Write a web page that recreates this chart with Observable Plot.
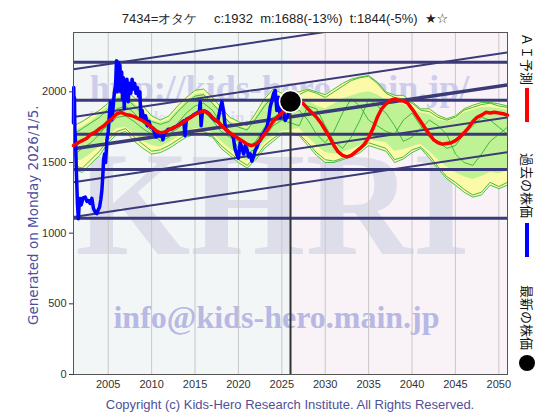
<!DOCTYPE html>
<html><head><meta charset="utf-8">
<script src="https://cdn.jsdelivr.net/npm/d3@7"></script>
<script src="https://cdn.jsdelivr.net/npm/@observablehq/plot@0.6"></script>
<style>
body{margin:0;background:#fff;}
#wrap{position:relative;width:560px;height:420px;overflow:hidden;font-family:"Liberation Sans","DejaVu Sans",sans-serif;}
#wrap svg{position:absolute;left:0;top:0;}
.abs{position:absolute;white-space:nowrap;}
#title{top:10px;left:0;width:570px;text-align:center;font-size:13px;color:#222;}
#ylab{left:25px;top:95px;height:240px;writing-mode:vertical-rl;transform:rotate(180deg);font-size:13.5px;color:#4e4ea0;font-family:"DejaVu Sans",sans-serif;text-align:center;}
#copy{top:397px;left:0;width:580px;text-align:center;font-size:13px;color:#505098;}
.lg{left:519px;writing-mode:vertical-rl;text-orientation:sideways;font-size:13px;color:#111;font-family:"Noto Sans CJK JP",sans-serif;line-height:16px;}
.bar{left:525px;width:4px;height:34px;}
</style></head><body><div id="wrap"></div><script>
// ---- data ----
const title = "7434=オタケ\u3000 c:1932\u00a0\u00a0m:1688(-13%)\u00a0\u00a0t:1844(-5%)\u00a0\u00a0★☆";
const generated = "Generated on Monday 2026/1/5.";
const copyright = "Copyright (c) Kids-Hero Research Institute. All Rights Reserved.";
const legendLabels = ["ＡＩ予測", "過去の株価", "最新の株価"];
const xTicks = [2005, 2010, 2015, 2020, 2025, 2030, 2035, 2040, 2045, 2050];
const yTicks = [0, 500, 1000, 1500, 2000];

const bandYears = [2001,2002,2003,2004,2005,2006,2007,2008,2009,2010,2011,2012,2013,2014,2015,2016,2017,2018,2019,2020,2021,2022,2023,2024,2025,2026,2027,2028,2029,2030,2031,2032,2033,2034,2035,2036,2037,2038,2039,2040,2041,2042,2043,2044,2045,2046,2047,2048,2049,2050,2051];
const yellowHi = [1760,1790,1830,1870,1920,2000,2010,1960,1900,1830,1800,1830,1900,1960,2010,2020,1960,1890,1820,1790,1760,1850,1950,2020,1990,2000,2000,2020,2000,1980,2020,2060,2090,2105,2115,2070,2000,1975,1975,1930,1880,1880,1835,1810,1830,1880,1905,1925,1925,1915,1900];
const yellowLo = [1450,1430,1490,1550,1640,1700,1720,1650,1600,1560,1570,1600,1640,1680,1700,1700,1680,1600,1550,1500,1460,1520,1600,1650,1700,1700,1690,1620,1550,1500,1500,1520,1540,1570,1620,1600,1580,1500,1525,1570,1600,1530,1455,1385,1340,1290,1255,1270,1340,1315,1340];
const greenHi = [1720,1750,1790,1840,1900,1960,1970,1920,1860,1800,1780,1800,1870,1930,1980,1990,1930,1860,1790,1760,1740,1820,1910,1980,1960,1960,1950,1940,1900,1880,1910,1950,1970,1990,2000,1980,1940,1920,1910,1880,1850,1840,1800,1790,1800,1850,1870,1890,1890,1880,1870];
const greenLo = [1500,1520,1560,1610,1680,1740,1750,1700,1650,1620,1610,1640,1680,1710,1740,1740,1710,1650,1600,1550,1510,1560,1640,1690,1720,1730,1740,1680,1620,1570,1560,1570,1590,1620,1660,1650,1640,1580,1590,1610,1630,1580,1520,1470,1430,1400,1380,1400,1430,1420,1440];
const path1 = [1700,1740,1780,1820,1880,1950,1960,1900,1840,1790,1770,1790,1860,1920,1970,1980,1920,1850,1780,1750,1730,1810,1900,1970,1950,1960,1980,2010,1990,1960,2000,2040,2080,2100,2110,2060,1990,1960,1950,1920,1870,1860,1820,1800,1820,1870,1890,1910,1920,1900,1890];
const path2 = [1480,1460,1520,1580,1660,1720,1740,1680,1630,1580,1590,1620,1660,1700,1720,1720,1690,1620,1570,1520,1480,1540,1620,1670,1710,1710,1700,1640,1570,1520,1510,1530,1560,1590,1640,1620,1600,1520,1540,1590,1610,1550,1470,1400,1360,1310,1270,1290,1360,1330,1360];
const path3 = [1600,1650,1690,1720,1760,1820,1830,1790,1740,1700,1680,1700,1740,1790,1850,1860,1800,1720,1680,1650,1600,1650,1750,1820,1840,1850,1870,1800,1700,1640,1720,1850,1950,1900,1800,1760,1720,1700,1800,1850,1760,1680,1650,1600,1620,1700,1760,1820,1800,1750,1700];
const path4 = [1550,1600,1640,1700,1780,1880,1900,1850,1780,1720,1650,1680,1780,1850,1900,1920,1870,1780,1700,1600,1560,1600,1680,1760,1800,1780,1760,1900,1880,1760,1650,1600,1680,1800,1950,1900,1850,1760,1650,1680,1740,1800,1760,1700,1560,1500,1480,1560,1650,1700,1750];

const aiYears = [2001,2001.5,2002,2002.5,2003,2003.5,2004,2004.5,2005,2005.5,2006,2006.5,2007,2007.5,2008,2008.5,2009,2009.5,2010,2010.5,2011,2011.5,2012,2012.5,2013,2013.5,2014,2014.5,2015,2015.5,2016,2016.5,2017,2017.5,2018,2018.5,2019,2019.5,2020,2020.5,2021,2021.5,2022,2022.5,2023,2023.5,2024,2024.5,2025,2025.5,2026,2026.5,2027,2027.5,2028,2028.5,2029,2029.5,2030,2030.5,2031,2031.5,2032,2032.5,2033,2033.5,2034,2034.5,2035,2035.5,2036,2036.5,2037,2037.5,2038,2038.5,2039,2039.5,2040,2040.5,2041,2041.5,2042,2042.5,2043,2043.5,2044,2044.5,2045,2045.5,2046,2046.5,2047,2047.5,2048,2048.5,2049,2049.5,2050,2050.5,2051];
const aiForecast = [1620,1640,1655,1670,1700,1715,1740,1760,1790,1815,1845,1855,1840,1835,1825,1810,1795,1775,1750,1725,1710,1715,1730,1745,1760,1780,1800,1820,1840,1855,1865,1850,1820,1795,1765,1735,1710,1690,1670,1650,1630,1620,1630,1660,1700,1745,1790,1825,1850,1880,1905,1925,1930,1915,1880,1850,1820,1780,1730,1680,1620,1575,1550,1540,1550,1575,1600,1630,1675,1740,1820,1880,1915,1940,1950,1940,1935,1920,1880,1835,1790,1745,1700,1660,1640,1630,1635,1640,1655,1680,1710,1745,1790,1820,1835,1855,1850,1855,1850,1845,1835];

const histYears = [2001.00,2001.03,2001.07,2001.11,2001.16,2001.24,2001.34,2001.46,2001.56,2001.66,2001.77,2001.88,2001.97,2002.10,2002.35,2002.55,2002.73,2002.92,2003.12,2003.30,2003.50,2003.70,2003.85,2004.00,2004.15,2004.27,2004.39,2004.46,2004.58,2004.70,2004.85,2005.00,2005.15,2005.25,2005.40,2005.55,2005.70,2005.85,2005.95,2006.05,2006.15,2006.25,2006.35,2006.45,2006.55,2006.65,2006.75,2006.85,2006.95,2007.05,2007.15,2007.30,2007.45,2007.60,2007.75,2007.90,2008.05,2008.20,2008.35,2008.50,2008.65,2008.75,2008.90,2009.10,2009.30,2009.50,2009.70,2009.90,2010.10,2010.30,2010.50,2010.70,2010.90,2011.10,2011.30,2011.50,2011.70,2011.90,2012.20,2012.50,2012.80,2013.10,2013.40,2013.70,2013.85,2014.00,2014.30,2014.60,2014.90,2015.20,2015.50,2015.60,2015.70,2015.85,2016.10,2016.40,2016.70,2017.00,2017.30,2017.60,2017.90,2018.10,2018.30,2018.50,2018.80,2019.10,2019.40,2019.60,2019.80,2020.00,2020.20,2020.40,2020.60,2020.80,2021.00,2021.20,2021.36,2021.55,2021.74,2021.90,2022.13,2022.30,2022.50,2022.70,2022.89,2023.10,2023.28,2023.46,2023.66,2023.86,2024.04,2024.24,2024.43,2024.62,2024.81,2025.00,2025.19,2025.39,2025.58,2025.77,2025.96];
const histPrice = [1780,2030,1820,1960,1720,1640,1420,1200,1102,1210,1246,1200,1219,1250,1255,1225,1231,1210,1246,1175,1149,1139,1165,1184,1240,1302,1423,1515,1560,1500,1660,1720,1850,1930,1800,1880,1990,2050,2220,2000,2210,2060,2190,2000,2140,1950,2100,1880,2060,1950,2090,1930,2060,1990,2090,2020,2060,1990,2030,1970,2000,1820,1870,1800,1830,1760,1790,1750,1745,1720,1680,1700,1690,1705,1660,1715,1720,1735,1735,1745,1755,1765,1780,1795,1690,1805,1815,1825,1840,1850,1860,1930,1760,1860,1865,1855,1840,1815,1800,1790,1880,1930,1860,1740,1720,1705,1680,1600,1560,1530,1640,1600,1560,1620,1590,1540,1562,1510,1538,1580,1609,1640,1656,1690,1703,1730,1750,1798,1892,1939,1987,2010,1868,1962,1821,1892,1868,1798,1821,1845,1868];

const levelLines = [2210, 1940, 1700, 1450, 1105];
const trendStartYear = 2001, trendEndYear = 2051;
const trendStart = [2160, 1822, 1597, 1361, 1115];
const trendEnd = [2615, 2279, 2049, 1819, 1573];
const trendWeight = [2, 2, 3.5, 2, 2];
const currentYear = 2026, currentPrice = 1932;

// ---- tables ----
const band = bandYears.map((x, i) => ({x, yHi: yellowHi[i], yLo: yellowLo[i], gHi: greenHi[i], gLo: greenLo[i]}));
const paths = [path1, path2, path3, path4].flatMap((p, k) => bandYears.map((x, i) => ({x, y: p[i], k})));
const ai = aiYears.map((x, i) => ({x, y: aiForecast[i]}));
const hist = histYears.map((x, i) => ({x, y: histPrice[i]}));
const trends = trendStart.flatMap((s, k) => [{x: trendStartYear, y: s, k, w: trendWeight[k]}, {x: trendEndYear, y: trendEnd[k], k, w: trendWeight[k]}]);
const bgPast = [{x1: 2001, x2: currentYear}], bgFuture = [{x1: currentYear, x2: 2051}];
const navy = "#3a3a78";

const chart = Plot.plot({
  width: 560, height: 420,
  marginLeft: 73, marginRight: 53, marginTop: 32, marginBottom: 46,
  x: {domain: [2001, 2051], label: null},
  y: {domain: [0, 2420], label: null},
  style: {fontFamily: "'Liberation Sans', sans-serif", fontSize: "11px", color: "#333", background: "transparent"},
  marks: [
    Plot.rect(bgPast, {x1: "x1", x2: "x2", y1: 0, y2: 2420, fill: "#f2f6f7"}),
    Plot.rect(bgFuture, {x1: "x1", x2: "x2", y1: 0, y2: 2420, fill: "#f9f2f7"}),
    Plot.text(["http://kids-hero.main.jp/"], {text: d => d, frameAnchor: "top", dx: -11, dy: 42, fontSize: 36, fontWeight: "bold", fontFamily: "'Liberation Serif', serif", fill: "#cdcdec"}),
    Plot.text(["http://kids-hero.main.jp/7434.htm"], {text: d => d, frameAnchor: "top-left", dx: 16, dy: 78, fontSize: 17, fontWeight: "bold", fontFamily: "'Liberation Serif', serif", fill: "#dcdcf0", textAnchor: "start"}),
    Plot.text(["KHRI"], {text: d => d, frameAnchor: "middle", dx: -18, dy: 3, fontSize: 148, fontWeight: "bold", fontFamily: "'Liberation Serif', serif", fill: "#dedeea"}),
    Plot.text(["info@kids-hero.main.jp"], {text: d => d, frameAnchor: "bottom", dx: -14, dy: -47, fontSize: 32, fontWeight: "bold", fontFamily: "'Liberation Serif', serif", fill: "#b8b8e4"}),
    Plot.gridX(xTicks, {stroke: "#c8c8c8", strokeOpacity: 1, strokeWidth: 1}),
    Plot.areaY(band, {x: "x", y1: "yLo", y2: "yHi", fill: "#fbfaa8"}),
    Plot.areaY(band, {x: "x", y1: "gLo", y2: "gHi", fill: "#bff294"}),
    Plot.line(band, {x: "x", y: "yHi", stroke: "#3cb83c", strokeWidth: 0.9}),
    Plot.line(band, {x: "x", y: "yLo", stroke: "#3cb83c", strokeWidth: 0.9}),
    Plot.line(paths, {x: "x", y: "y", z: "k", stroke: "#33b033", strokeWidth: 0.9}),
    Plot.ruleY(levelLines, {stroke: navy, strokeWidth: 3}),
    Plot.line(trends, {x: "x", y: "y", z: "k", stroke: navy, strokeWidth: "w", clip: true}),
    Plot.line(hist, {x: "x", y: "y", stroke: "#0000ff", strokeWidth: 3.5}),
    Plot.line(ai, {x: "x", y: "y", stroke: "#ff0000", strokeWidth: 3.5}),
    Plot.ruleX([currentYear], {y1: 0, y2: currentPrice, stroke: "#333", strokeWidth: 2}),
    Plot.dot([{x: currentYear, y: currentPrice}], {x: "x", y: "y", r: 11, fill: "#000", stroke: "#fff", strokeWidth: 1.5}),
    Plot.axisY(yTicks, {tickSize: 4, tickPadding: 3, stroke: "#333", fontSize: 11, tickFormat: d => String(d)}),
    Plot.axisX(xTicks, {tickSize: 0, tickPadding: 6, tickFormat: d => String(d), fontSize: 11}),
    Plot.frame({stroke: "#555", strokeWidth: 1})
  ]
});
const wrap = document.getElementById("wrap");
wrap.appendChild(chart);
function addDiv(id, cls, text, css) {
  const d = document.createElement("div");
  if (id) d.id = id;
  d.className = "abs " + (cls || "");
  d.textContent = text;
  if (css) Object.assign(d.style, css);
  wrap.appendChild(d);
  return d;
}
addDiv("title", "", title);
addDiv("ylab", "", generated);
addDiv("copy", "", copyright);
addDiv(null, "lg", legendLabels[0], {top: "33px"});
addDiv(null, "bar", "", {top: "88px", background: "#ff0000"});
addDiv(null, "lg", legendLabels[1], {top: "153px"});
addDiv(null, "bar", "", {top: "223px", background: "#0000ff"});
addDiv(null, "lg", legendLabels[2], {top: "285px"});
addDiv(null, "", "", {left: "519px", top: "355px", width: "16px", height: "16px", borderRadius: "50%", background: "#000"});
</script></body></html>
